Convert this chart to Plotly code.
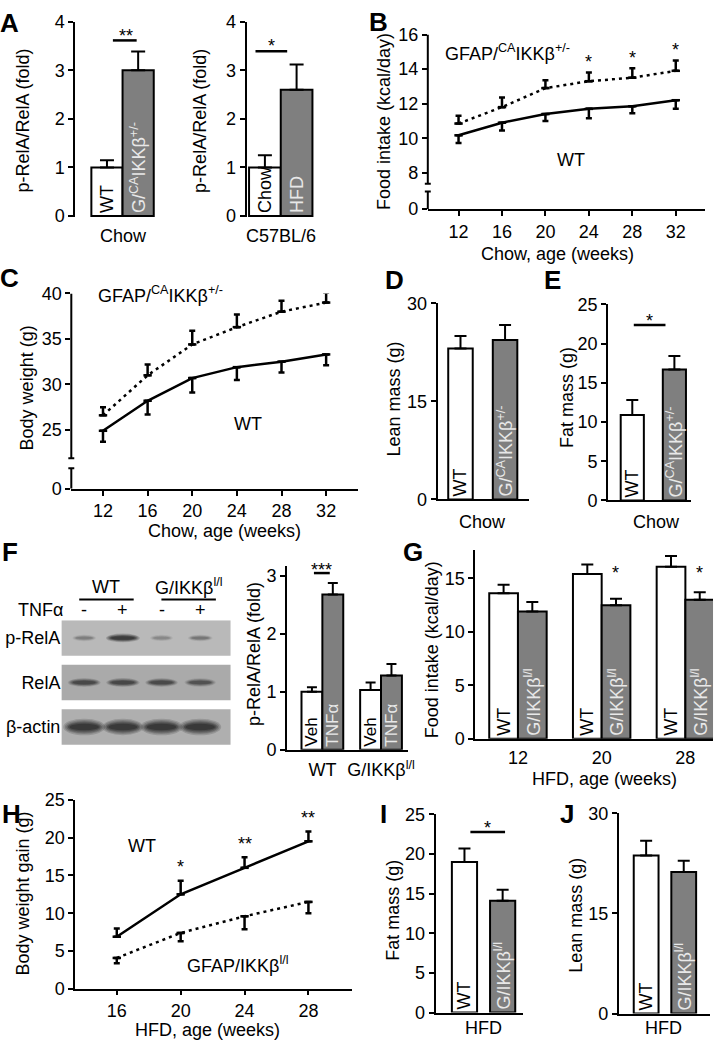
import plotly.graph_objects as go

W, H = 721, 1050
FONT = "Liberation Sans, Arial, Helvetica, sans-serif"
GRAY = "#7f7f7f"
LIGHT = "#e8e8e8"

# ---------------- data ----------------
# A
a1_groups = ["WT", "G/CA IKKb+/-"]
a1_text = ["WT", "G/<sup>CA</sup>IKKβ<sup>+/-</sup>"]
a1_mean = [1.0, 3.0]
a1_sem = [0.15, 0.39]
a2_groups = ["Chow", "HFD"]
a2_mean = [1.0, 2.6]
a2_sem = [0.25, 0.52]
a_yticks = [0, 1, 2, 3, 4]

# B (food intake, chow)
chow_weeks = [12, 16, 20, 24, 28, 32]
b_wt_mean = [10.17, 10.9, 11.4, 11.7, 11.85, 12.2]
b_wt_sem = [0.45, 0.45, 0.4, 0.55, 0.4, 0.5]
b_ca_mean = [10.85, 11.8, 12.9, 13.3, 13.5, 13.9]
b_ca_sem = [0.45, 0.55, 0.45, 0.5, 0.55, 0.6]
b_stars = ["", "", "", "*", "*", "*"]
b_yticks = [8, 10, 12, 14, 16]

# C (body weight, chow)
c_wt_mean = [24.9, 28.2, 30.7, 31.9, 32.5, 33.3]
c_wt_sem = [1.2, 1.5, 1.6, 1.4, 1.2, 1.2]
c_ca_mean = [26.6, 31.0, 34.4, 36.3, 38.0, 39.0]
c_ca_sem = [0.9, 1.2, 1.5, 1.4, 1.2, 1.1]
c_stars = ["", "", "", "", "*", "*"]
c_yticks = [25, 30, 35, 40]

# D, E
chow_groups = ["WT", "G/CA IKKb+/-"]
chow_text = ["WT", "G/<sup>CA</sup>IKKβ<sup>+/-</sup>"]
d_mean = [23.1, 24.4]
d_sem = [1.9, 2.3]
e_mean = [10.9, 16.7]
e_sem = [1.9, 1.7]

# F
blot_rows = ["p-RelA", "RelA", "β-actin"]
blot_lanes = [1, 2, 3, 4]
blot_tnf = ["-", "+", "-", "+"]
blot_intensity = [[0.30, 0.95, 0.25, 0.35],
                  [0.72, 0.74, 0.70, 0.62],
                  [0.97, 0.93, 0.97, 0.97]]
f_groups = ["WT", "G/IKKβ<sup>l/l</sup>"]
f_veh_mean = [1.0, 1.03]
f_veh_sem = [0.08, 0.13]
f_tnf_mean = [2.68, 1.28]
f_tnf_sem = [0.2, 0.2]

# G
g_weeks = ["12", "20", "28"]
g_wt_mean = [13.6, 15.4, 16.1]
g_wt_sem = [0.8, 0.9, 1.0]
g_ko_mean = [11.9, 12.5, 13.0]
g_ko_sem = [0.9, 0.6, 0.7]
g_stars = ["", "*", "*"]

# H
hfd_weeks = [16, 20, 24, 28]
h_wt_mean = [6.9, 12.5, 16.0, 19.5]
h_wt_sem = [1.1, 1.8, 1.4, 1.3]
h_ko_mean = [4.1, 7.4, 9.6, 11.5]
h_ko_sem = [0.7, 1.1, 1.7, 1.5]
h_stars = ["", "*", "**", "**"]

# I, J
hfd_groups = ["WT", "G/IKKb l/l"]
hfd_text = ["WT", "G/IKKβ<sup>l/l</sup>"]
i_mean = [19.0, 14.1]
i_sem = [1.7, 1.4]
j_mean = [23.7, 21.2]
j_sem = [2.2, 1.7]


# ---------------- helpers ----------------
def xn(n):
    return "x" if n == 1 else f"x{n}"


def yn(n):
    return "y" if n == 1 else f"y{n}"


AX = dict(showgrid=False, zeroline=False, showline=True, linecolor="black", linewidth=2,
          ticks="outside", ticklen=5, tickwidth=2, tickcolor="black",
          tickfont=dict(size=18, family=FONT, color="black"), fixedrange=True)

# n: (left px, right px, x range, top px, bottom px, y range)
geo = {
    1: (76, 158, [-1.016, 1.587], 12, 211.5, [-0.03, 4]),
    2: (249, 318, [-0.578, 1.578], 12, 211.5, [-0.03, 4]),
    3: (432, 712, [9.17, 34.7], 25, 203, [5.9, 16]),
    4: (72, 362, [9.16, 34.9], 289, 488, [18.53, 40]),
    5: (442, 534, [-0.511, 1.533], 299, 499, [0, 30]),
    6: (614, 698, [-0.576, 1.4], 300, 500, [0, 25]),
    7: (62, 233, [0.41, 4.79], 622, 750, [2.42, -0.4]),
    8: (290, 412, [-0.60, 1.46], 567, 754, [0, 3.17]),
    9: (480, 720, [-0.509, 2.33], 550, 743, [0, 17.7]),
    10: (76, 355, [13.4, 30.7], 805, 998, [0, 25]),
    11: (440, 528, [-0.753, 1.53], 820, 1022, [0, 25]),
    12: (625, 717, [-0.724, 1.70], 819, 1023, [0, 30]),
}

layout = {}
for n, (l, r, xr, t, b, yr) in geo.items():
    sfx = "" if n == 1 else str(n)
    layout["xaxis" + sfx] = dict(AX, domain=[l / W, r / W], range=xr, anchor=yn(n))
    layout["yaxis" + sfx] = dict(AX, domain=[1 - b / H, 1 - t / H], range=yr, anchor=xn(n))


def X(n):
    return layout["xaxis" + ("" if n == 1 else str(n))]


def Y(n):
    return layout["yaxis" + ("" if n == 1 else str(n))]


# categorical bar panels
for n in (1, 2, 5, 6, 11, 12):
    X(n).update(type="category", showticklabels=False, ticks="")
for n in (1, 2):
    X(n).update(showline=False)
    Y(n).update(tickvals=a_yticks)
Y(5).update(tickvals=[0, 15, 30])
Y(6).update(tickvals=[0, 5, 10, 15, 20, 25])
Y(11).update(tickvals=[0, 5, 10, 15, 20, 25])
Y(12).update(tickvals=[0, 15, 30])

# broken axes B, C
X(3).update(tickvals=chow_weeks)
Y(3).update(showline=False, tickvals=[geo[3][5][0]] + b_yticks,
            ticktext=["0"] + [str(v) for v in b_yticks])
X(4).update(tickvals=chow_weeks)
Y(4).update(showline=False, tickvals=[geo[4][5][0]] + c_yticks,
            ticktext=["0"] + [str(v) for v in c_yticks])

# blot
X(7).update(visible=False)
Y(7).update(showline=False, ticks="", tickvals=list(range(len(blot_rows))), ticktext=blot_rows)

# F bars / G
X(8).update(type="category", ticks="", ticklabelstandoff=3)
Y(8).update(tickvals=[0, 1, 2, 3])
X(9).update(type="category", ticks="", ticklabelstandoff=2)
Y(9).update(tickvals=[0, 5, 10, 15])

# H
X(10).update(tickvals=hfd_weeks, ticklen=4)
Y(10).update(tickvals=[0, 5, 10, 15, 20, 25])

traces = []


def bar(n, x, y, sem, color, text, tcolor, width, offset=None, cap=6, tsize=18):
    return go.Bar(x=x, y=y, xaxis=xn(n), yaxis=yn(n), width=width, offset=offset,
                  marker=dict(color=color, line=dict(color="black", width=2)),
                  error_y=dict(type="data", symmetric=False, array=sem, arrayminus=[0] * len(sem),
                               color="black", thickness=2, width=cap),
                  text=text, textposition="inside", insidetextanchor="start", textangle=-90,
                  constraintext="none", textfont=dict(size=tsize, family=FONT, color=tcolor),
                  showlegend=False, hoverinfo="skip")


def line(n, x, y, sem, up, dash):
    z = [0] * len(sem)
    return go.Scatter(x=x, y=y, xaxis=xn(n), yaxis=yn(n), mode="lines+markers",
                      line=dict(color="black", width=2.5, dash=dash),
                      marker=dict(symbol="line-ew", size=6, color="black",
                                  line=dict(width=2.5, color="black")),
                      error_y=dict(type="data", symmetric=False,
                                   array=sem if up else z, arrayminus=z if up else sem,
                                   color="black", thickness=2.5, width=3),
                      cliponaxis=False, showlegend=False, hoverinfo="skip")


two = ["white", GRAY]
twot = ["black", LIGHT]
traces.append(bar(1, a1_groups, a1_mean, a1_sem, two, a1_text, twot, 1.0, cap=7, tsize=18))
traces.append(bar(2, a2_groups, a2_mean, a2_sem, two, a2_groups, twot, 1.0, cap=7, tsize=18))
traces.append(line(3, chow_weeks, b_wt_mean, b_wt_sem, False, "solid"))
traces.append(line(3, chow_weeks, b_ca_mean, b_ca_sem, True, "3px,4px"))
traces.append(line(4, chow_weeks, c_wt_mean, c_wt_sem, False, "solid"))
traces.append(line(4, chow_weeks, c_ca_mean, c_ca_sem, True, "3px,4px"))
traces.append(bar(5, chow_groups, d_mean, d_sem, two, chow_text, twot, 0.55, cap=6))
traces.append(bar(6, chow_groups, e_mean, e_sem, two, chow_text, twot, 0.55, cap=6))
traces.append(bar(8, f_groups, f_veh_mean, f_veh_sem, "white", ["Veh"] * 2, "black", 0.356,
                  offset=-0.356, cap=5, tsize=17))
traces.append(bar(8, f_groups, f_tnf_mean, f_tnf_sem, GRAY, ["TNFα"] * 2, LIGHT, 0.356,
                  offset=0, cap=5, tsize=17))
traces.append(bar(9, g_weeks, g_wt_mean, g_wt_sem, "white", ["WT"] * 3, "black", 0.343,
                  offset=-0.343, cap=6))
traces.append(bar(9, g_weeks, g_ko_mean, g_ko_sem, GRAY, ["G/IKKβ<sup>l/l</sup>"] * 3, LIGHT, 0.343,
                  offset=0, cap=6))
traces.append(line(10, hfd_weeks, h_wt_mean, h_wt_sem, True, "solid"))
traces.append(line(10, hfd_weeks, h_ko_mean, h_ko_sem, False, "3px,4px"))
traces.append(bar(11, hfd_groups, i_mean, i_sem, two, hfd_text, twot, 0.66, cap=6))
traces.append(bar(12, hfd_groups, j_mean, j_sem, two, hfd_text, twot, 0.66, cap=6))

fig = go.Figure(traces)

# ---------------- shapes ----------------
shapes = []


def pline(x0, x1, y0, y1, w=2):
    shapes.append(dict(type="line", xref="paper", yref="paper", x0=x0 / W, x1=x1 / W,
                       y0=1 - y0 / H, y1=1 - y1 / H, line=dict(color="black", width=w)))


# broken y-axis segments
for n, (up0, up1, lo0, lo1) in {3: (7.37, 16, 5.9, 6.92), 4: (21.87, 40, 18.53, 20.79)}.items():
    wpx = geo[n][1] - geo[n][0]
    for a, b in ((up0, up1), (lo0, lo1)):
        shapes.append(dict(type="line", xref=f"x{n} domain", yref=f"y{n}", x0=0, x1=0, y0=a, y1=b,
                           line=dict(color="black", width=2)))
    for v in (up0, lo1):
        shapes.append(dict(type="line", xref=f"x{n} domain", yref=f"y{n}", x0=-3 / wpx, x1=3 / wpx,
                           y0=v, y1=v, line=dict(color="black", width=2)))

# significance bars
pline(114, 138, 31, 31, 2.5)
pline(258, 290, 42, 42, 2.5)
pline(640, 672, 321, 321, 2.5)
pline(317, 333, 574, 574, 2.5)
pline(475, 510, 838, 838, 2.5)
# blot header underlines
pline(80, 135, 601, 601, 2)
pline(163, 218, 601, 601, 2)

# blot boxes and bands
box_fill = ["#b9b9b9", "#aaaaaa", "#afafaf"]
band_w = [0.9, 0.97, 1.1]
band_h = [0.2, 0.22, 0.38]
layers = ((1.0, 0.18), (0.85, 0.22), (0.7, 0.28), (0.55, 0.35), (0.4, 0.45))
for r, row in enumerate(blot_rows):
    shapes.append(dict(type="rect", xref="x7", yref="y7", x0=0.41, x1=4.79, y0=r - 0.4, y1=r + 0.4,
                       fillcolor=box_fill[r], line=dict(width=0), layer="below"))
    for li, lane in enumerate(blot_lanes):
        it = blot_intensity[r][li]
        bw = band_w[r] * (0.55 + 0.45 * it)
        bh = band_h[r] * (0.6 + 0.4 * it)
        for s, op in layers:
            shapes.append(dict(type="circle", xref="x7", yref="y7",
                               x0=lane - bw * (0.5 + 0.5 * s) / 2, x1=lane + bw * (0.5 + 0.5 * s) / 2,
                               y0=r - bh * s / 2, y1=r + bh * s / 2,
                               fillcolor="#202020", opacity=op * it, line=dict(width=0)))

# ---------------- annotations ----------------
ann = []


def T(text, x, y, size=18, angle=0, xanchor="center", bold=False, **kw):
    if bold:
        text = f"<b>{text}</b>"
    d = dict(text=text, x=x / W, y=1 - y / H, xref="paper", yref="paper", showarrow=False,
             textangle=angle, xanchor=xanchor, yanchor="middle",
             font=dict(size=size, family=FONT, color="black"))
    d.update(kw)
    ann.append(d)


for letter, x, y in (("A", 10, 13), ("B", 382, 12), ("C", 10, 273), ("D", 398, 275), ("E", 558, 275),
                     ("F", 10, 553), ("G", 417, 553), ("H", 12, 820), ("I", 387, 820), ("J", 573, 820)):
    T(letter, x, y, size=26, bold=True)

for txt, x, y in (("p-RelA/RelA (fold)", 23, 113), ("p-RelA/RelA (fold)", 202, 113),
                  ("Food intake (kcal/day)", 388, 114), ("Body weight (g)", 27, 385),
                  ("Lean mass (g)", 398, 397), ("Fat mass (g)", 573, 395),
                  ("p-RelA/RelA (fold)", 257, 657), ("Food intake (kcal/day)", 436, 652),
                  ("Body weight gain (g)", 23, 901), ("Fat mass (g)", 396, 918),
                  ("Lean mass (g)", 582, 923)):
    T(txt, x, y, angle=-90)

for txt, x, y in (("Chow", 125, 230), ("C57BL/6", 284, 230), ("Chow, age (weeks)", 563, 249),
                  ("Chow, age (weeks)", 227, 531), ("Chow", 487, 522), ("Chow", 663, 522),
                  ("HFD, age (weeks)", 610, 784), ("HFD, age (weeks)", 210, 1040),
                  ("HFD", 488, 1038), ("HFD", 670, 1038)):
    T(txt, x, y)

# series labels
T("GFAP/<sup>CA</sup>IKKβ<sup>+/-</sup>", 447, 43, xanchor="left")
T("WT", 577, 153)
T("GFAP/<sup>CA</sup>IKKβ<sup>+/-</sup>", 97, 290, xanchor="left")
T("WT", 250, 422)
T("WT", 143, 852)
T("GFAP/IKKβ<sup>l/l</sup>", 240, 973)

# blot labels
T("WT", 107, 588)
T("G/IKKβ<sup>l/l</sup>", 190, 588)
T("TNFα", 41, 612)
for lane, s in zip(blot_lanes, blot_tnf):
    ann.append(dict(text=s, x=lane, xref="x7", y=1 - 612 / H, yref="paper", showarrow=False,
                    font=dict(size=18, family=FONT, color="black"), yanchor="middle"))

# stars in paper positions
T("**", 127, 27)
T("*", 274, 37)
T("*", 656, 317)
T("***", 325, 571)
T("*", 492, 834)
T("*", 622, 574)
T("*", 706, 574)


# stars above line points
def data_stars(n, xs, tops, marks, off):
    for x, t, m in zip(xs, tops, marks):
        if m:
            ann.append(dict(text=m, x=x, y=t + off, xref=xn(n), yref=yn(n), showarrow=False,
                            yanchor="middle", yshift=-4,
                            font=dict(size=18, family=FONT, color="black")))


data_stars(3, chow_weeks, [m + s for m, s in zip(b_ca_mean, b_ca_sem)], b_stars, 0.85)
data_stars(4, chow_weeks, [m + s for m, s in zip(c_ca_mean, c_ca_sem)], c_stars, 1.9)
data_stars(10, hfd_weeks, [m + s for m, s in zip(h_wt_mean, h_wt_sem)], h_stars, 2.3)

fig.update_layout(layout)
fig.update_layout(width=W, height=H, margin=dict(l=0, r=0, t=0, b=0), autosize=False,
                  paper_bgcolor="white", plot_bgcolor="white", showlegend=False,
                  shapes=shapes, annotations=ann, font=dict(family=FONT, size=18, color="black"))

fig.write_html("out.html", config={"displayModeBar": False},
               post_script="document.body.style.margin='0';document.body.style.overflow='hidden';")
